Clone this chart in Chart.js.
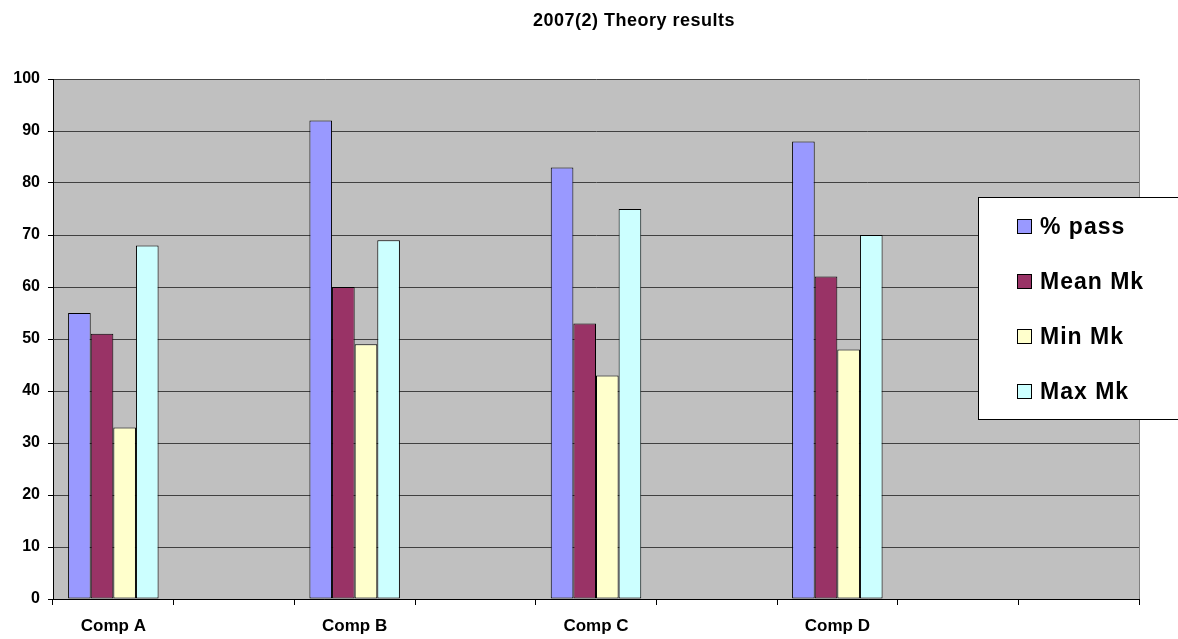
<!DOCTYPE html>
<html>
<head>
<meta charset="utf-8">
<title>2007(2) Theory results</title>
<script src="https://cdn.jsdelivr.net/npm/chart.js@4.4.1/dist/chart.umd.min.js"></script>
<style>
  html, body { margin:0; padding:0; background:#fff; }
  #wrap { width:1178px; height:639px; position:relative; }
</style>
</head>
<body>
<div id="wrap"><canvas id="chart"></canvas></div>
<script>
// categories (empty slots keep the spacing of the original sheet)
const categories = ['Comp A', '', 'Comp B', '', 'Comp C', '', 'Comp D', '', ''];
const passPct  = [55, null, 92, null, 83, null, 88, null, null];
const meanMk   = [51, null, 60, null, 53, null, 62, null, null];
const minMk    = [33, null, 49, null, 43, null, 48, null, null];
const maxMk    = [68, null, 69, null, 75, null, 70, null, null];
const yTicks   = [0, 10, 20, 30, 40, 50, 60, 70, 80, 90, 100];

const seriesNames  = ['% pass', 'Mean Mk', 'Min Mk', 'Max Mk'];
const seriesColors = ['#9999FF', '#993366', '#FFFFCC', '#CCFFFF'];
const TITLE = '2007(2) Theory results';

Chart.defaults.font.family = "'Liberation Sans', Arial, sans-serif";
Chart.defaults.font.weight = 'bold';
Chart.defaults.color = '#000';

// grey plot area
const plotBg = {
  id: 'plotBg',
  beforeDraw(chart) {
    const { ctx, chartArea: a } = chart;
    ctx.save();
    ctx.fillStyle = '#C0C0C0';
    ctx.fillRect(a.left, a.top, a.right - a.left, a.bottom - a.top);
    ctx.strokeStyle = '#808080';
    ctx.lineWidth = 1;
    ctx.beginPath();
    ctx.moveTo(a.right + 0.5, a.top);
    ctx.lineTo(a.right + 0.5, a.bottom + 6);
    ctx.stroke();
    ctx.restore();
  }
};

// title + boxed legend drawn by hand so they sit where the original has them
const extras = {
  id: 'extras',
  afterDraw(chart) {
    const ctx = chart.ctx;
    ctx.save();
    ctx.fillStyle = '#000';
    ctx.font = "bold 18px 'Liberation Sans', Arial, sans-serif";
    ctx.letterSpacing = '0.5px';
    ctx.textAlign = 'center';
    ctx.textBaseline = 'middle';
    ctx.fillText(TITLE, 634, 21);

    // legend box
    ctx.fillStyle = '#fff';
    ctx.fillRect(978.5, 197.5, 220, 222);
    ctx.strokeStyle = '#000';
    ctx.lineWidth = 1;
    ctx.strokeRect(978.5, 197.5, 220, 222);

    ctx.font = "bold 23px 'Liberation Sans', Arial, sans-serif";
    ctx.letterSpacing = '1px';
    ctx.textAlign = 'left';
    chart.data.datasets.forEach((ds, i) => {
      const y = 227 + i * 55;
      ctx.fillStyle = ds.backgroundColor;
      ctx.fillRect(1017.5, y - 7.5, 14, 14);
      ctx.strokeStyle = '#000';
      ctx.strokeRect(1017.5, y - 7.5, 14, 14);
      ctx.fillStyle = '#000';
      ctx.fillText(ds.label, 1040, y + 1);
    });
    ctx.restore();
  }
};

const seriesData = [passPct, meanMk, minMk, maxMk];

new Chart(document.getElementById('chart').getContext('2d'), {
  type: 'bar',
  data: {
    labels: categories,
    datasets: seriesData.map((d, i) => ({
      label: seriesNames[i],
      data: d,
      backgroundColor: seriesColors[i],
      borderColor: '#000',
      borderWidth: 1,
      borderSkipped: false,
      categoryPercentage: 0.75,
      barPercentage: 1
    }))
  },
  options: {
    responsive: true,
    maintainAspectRatio: false,
    animation: false,
    layout: { padding: { top: 79, right: 39, left: 0, bottom: 0 } },
    plugins: { legend: { display: false }, title: { display: false }, tooltip: { enabled: false } },
    scales: {
      x: {
        afterFit(s) { s.height = 40; },
        grid: { offset: true, drawOnChartArea: false, drawTicks: true, tickLength: 6, color: '#000' },
        border: { color: '#000' },
        ticks: { autoSkip: false, maxRotation: 0, padding: 11, font: { size: 17, weight: 'bold' } }
      },
      y: {
        min: 0, max: 100,
        afterFit(s) { s.width = 53; },
        afterBuildTicks(s) { s.ticks = yTicks.map(v => ({ value: v })); },
        grid: { color: '#404040', tickLength: 5, tickColor: '#000' },
        border: { color: '#000' },
        ticks: { padding: 8, font: { size: 16, weight: 'bold' } }
      }
    }
  },
  plugins: [plotBg, extras]
});
</script>
</body>
</html>
